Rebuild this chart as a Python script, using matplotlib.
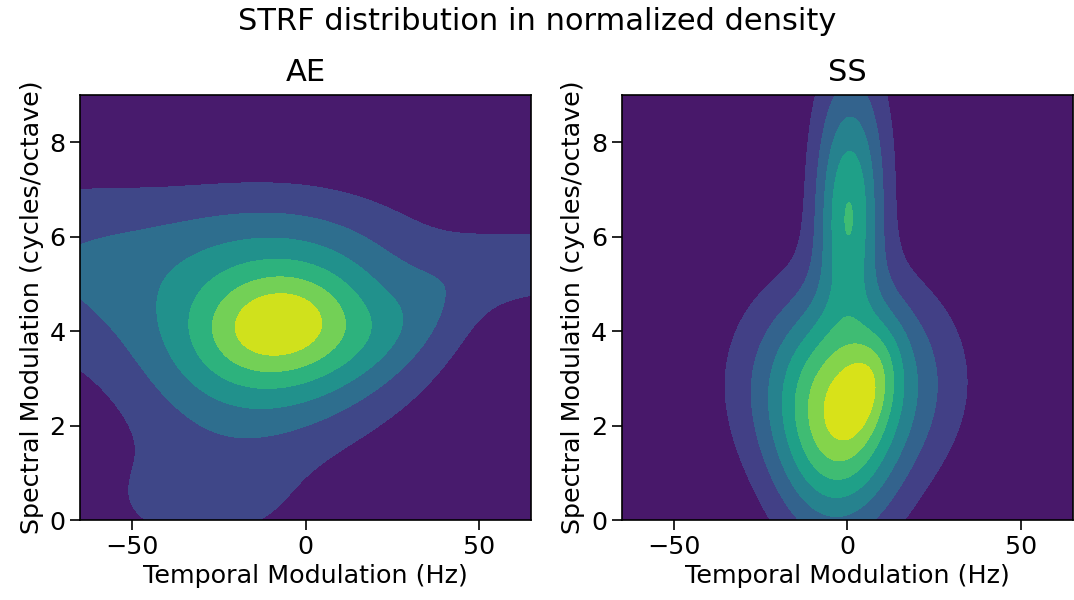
import matplotlib.pyplot as plt
import numpy as np

# Область графика
x_range = [-65, 65]
y_range = [0, 9]

panel_titles = ['AE', 'SS']
n_bands = [7, 8]

# Компоненты плотности для AE: центр, ширина, вес, корреляция
ae_cx = [-7, -9, -20, -72, -15, -31, 30, 72]
ae_cy = [4.15, 4.2, 2.6, 5.3, 6.1, 0.4, 4.2, 5.4]
ae_sx = [15, 28, 20, 25, 45, 27, 18, 22]
ae_sy = [0.75, 1.5, 0.9, 1.4, 0.9, 1.05, 0.9, 0.6]
ae_w = [0.3, 0.6, 0.08, 0.2, 0.08, 0.16, 0.12, 0.18]
ae_rho = [0.15, 0.0, 0.0, 0.0, 0.0, 0.0, 0.6, 0.0]

# Компоненты плотности для SS
ss_cx = [-3.5, 0, 6, 0, 1.2]
ss_cy = [1.5, 2.95, 2.9, 6.15, 7.6]
ss_sx = [12, 20, 6, 6, 8]
ss_sy = [1.5, 1.5, 0.8, 1.3, 1.8]
ss_w = [0.5, 0.6, 0.2, 0.34, 0.4]
ss_rho = [0.0, 0.0, 0.4, 0.0, 0.0]


def density(X, Y, cx, cy, sx, sy, w, rho):
    Z = np.zeros_like(X)
    for i in range(len(cx)):
        dx = (X - cx[i]) / sx[i]
        dy = (Y - cy[i]) / sy[i]
        r = rho[i]
        q = (dx**2 - 2 * r * dx * dy + dy**2) / (1 - r**2)
        Z += w[i] * np.exp(-0.5 * q)
    return Z / Z.max()


xs = np.linspace(x_range[0], x_range[1], 400)
ys = np.linspace(y_range[0], y_range[1], 400)
X, Y = np.meshgrid(xs, ys)

fields = [
    density(X, Y, ae_cx, ae_cy, ae_sx, ae_sy, ae_w, ae_rho),
    density(X, Y, ss_cx, ss_cy, ss_sx, ss_sy, ss_w, ss_rho),
]

fig, axes = plt.subplots(1, 2, figsize=(10.74, 6), dpi=100)
fig.subplots_adjust(left=0.0745, right=0.999, bottom=0.1333, top=0.8417, wspace=0.2)

for ax, Z, title, nb in zip(axes, fields, panel_titles, n_bands):
    levels = np.linspace(0, 1.0001, nb + 1)
    ax.contourf(X, Y, Z, levels=levels, cmap='viridis')
    ax.set_xlim(x_range)
    ax.set_ylim(y_range)
    ax.set_xticks([-50, 0, 50])
    ax.set_yticks([0, 2, 4, 6, 8])
    ax.tick_params(labelsize=18.3, length=7, width=1.2)
    for s in ax.spines.values():
        s.set_linewidth(1.2)
    ax.set_title(title, fontsize=22, pad=10)
    ax.set_xlabel('Temporal Modulation (Hz)', fontsize=18.3)
    ax.set_ylabel('Spectral Modulation (cycles/octave)', fontsize=18.3)

fig.suptitle('STRF distribution in normalized density', fontsize=22, y=0.988)

plt.savefig('out.png', dpi=100)
plt.close(fig)
